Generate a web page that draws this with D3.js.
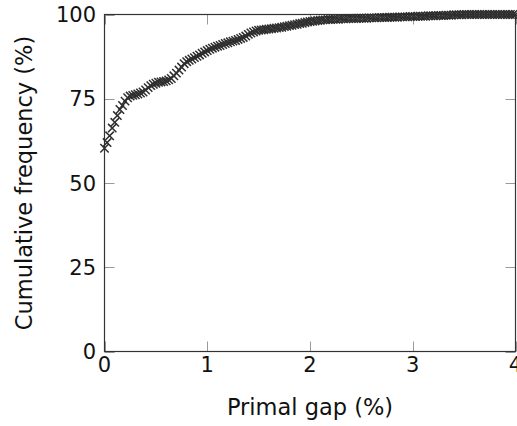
<!DOCTYPE html>
<html>
<head>
<meta charset="utf-8">
<script src="https://cdn.jsdelivr.net/npm/d3@7"></script>
<style>
  body { margin: 0; background: #fff; }
  svg text { font-family: 'DejaVu Sans', sans-serif; fill: #111; }
</style>
</head>
<body>
<div id="chart"></div>
<script>
// primal gap thresholds (%) sampled every 0.025
const gapStep = 0.025
// cumulative frequency (%) of instances with gap <= threshold
const cumFreq = [
  60.3, 62.0, 64.0, 66.3, 68.0, 70.0, 71.8, 73.0, 74.3, 75.3,
  75.8, 76.0, 76.2, 76.4, 76.7, 77.0, 77.6, 78.3, 78.9, 79.3,
  79.6, 79.9, 80.0, 80.1, 80.3, 80.6, 81.0, 81.8, 82.6, 83.5,
  84.4, 85.4, 86.0, 86.4, 86.8, 87.2, 87.6, 88.0, 88.5, 88.9,
  89.3, 89.7, 90.0, 90.3, 90.6, 90.8, 91.1, 91.4, 91.6, 91.9,
  92.1, 92.3, 92.6, 92.9, 93.2, 93.6, 94.1, 94.5, 94.8, 95.1,
  95.3, 95.4, 95.5, 95.6, 95.7, 95.8, 95.9, 96.0, 96.1, 96.2,
  96.4, 96.5, 96.7, 96.8, 97.0, 97.1, 97.3, 97.4, 97.6, 97.8,
  97.9, 98.0, 98.1, 98.2, 98.3, 98.4, 98.4, 98.5, 98.5, 98.6,
  98.6, 98.6, 98.7, 98.7, 98.7, 98.8, 98.8, 98.8, 98.8, 98.9,
  98.9, 98.9, 98.9, 99.0, 99.0, 99.0, 99.0, 99.1, 99.1, 99.1,
  99.1, 99.2, 99.2, 99.2, 99.2, 99.3, 99.3, 99.3, 99.3, 99.4,
  99.4, 99.4, 99.5, 99.5, 99.5, 99.5, 99.6, 99.6, 99.6, 99.6,
  99.7, 99.7, 99.7, 99.8, 99.8, 99.8, 99.9, 99.9, 99.9, 99.9,
  100, 100, 100, 100, 100, 100, 100, 100, 100, 100,
  100, 100, 100, 100, 100, 100, 100, 100, 100, 100,
  100
]
const xTicks = [0, 1, 2, 3, 4]
const yTicks = [0, 25, 50, 75, 100]
const xTitle = 'Primal gap (%)'
const yTitle = 'Cumulative frequency (%)'

const width = 517,
      height = 426,
      plot = { left: 104.5, right: 515.5, top: 14.5, bottom: 351.5 },
      tickLen = 10,
      markR = 4.2

const svg = d3.select('#chart')
  .append('svg')
  .attr('width', width)
  .attr('height', height)

const x = d3.scaleLinear().domain([0, 4]).range([plot.left, plot.right])
const y = d3.scaleLinear().domain([0, 100]).range([plot.bottom, plot.top])

// inward ticks on all four sides
const tickG = svg.append('g')
  .attr('stroke', '#9a9a9a')
  .attr('stroke-width', 1)
xTicks.forEach(t => {
  const px = Math.round(x(t)) + 0.5
  tickG.append('line').attr('x1', px).attr('x2', px)
    .attr('y1', plot.bottom).attr('y2', plot.bottom - tickLen)
  tickG.append('line').attr('x1', px).attr('x2', px)
    .attr('y1', plot.top).attr('y2', plot.top + tickLen)
})
yTicks.forEach(t => {
  const py = Math.round(y(t)) + 0.5
  tickG.append('line').attr('x1', plot.left).attr('x2', plot.left + tickLen)
    .attr('y1', py).attr('y2', py)
  tickG.append('line').attr('x1', plot.right).attr('x2', plot.right - tickLen)
    .attr('y1', py).attr('y2', py)
})

// frame
svg.append('rect')
  .attr('x', plot.left)
  .attr('y', plot.top)
  .attr('width', plot.right - plot.left)
  .attr('height', plot.bottom - plot.top)
  .attr('fill', 'none')
  .attr('stroke', '#333')
  .attr('stroke-width', 1.2)

// tick labels
svg.append('g').selectAll('text')
  .data(xTicks)
  .join('text')
  .attr('x', d => x(d))
  .attr('y', 372)
  .attr('text-anchor', 'middle')
  .attr('font-size', 21)
  .text(d => d)

svg.append('g').selectAll('text')
  .data(yTicks)
  .join('text')
  .attr('x', 96)
  .attr('y', d => y(d))
  .attr('dy', '0.36em')
  .attr('text-anchor', 'end')
  .attr('font-size', 21)
  .text(d => d)

// axis titles
svg.append('text')
  .attr('x', (plot.left + plot.right) / 2)
  .attr('y', 415)
  .attr('text-anchor', 'middle')
  .attr('font-size', 22.5)
  .text(xTitle)

svg.append('text')
  .attr('transform', `translate(32, ${(plot.top + plot.bottom) / 2}) rotate(-90)`)
  .attr('text-anchor', 'middle')
  .attr('font-size', 22.5)
  .text(yTitle)

// marks
const points = cumFreq.map((v, i) => ({ gap: i * gapStep, freq: v }))
svg.append('g')
  .selectAll('path')
  .data(points)
  .join('path')
  .attr('transform', d => `translate(${x(d.gap)}, ${y(d.freq)})`)
  .attr('d', `M${-markR},${-markR}L${markR},${markR}M${-markR},${markR}L${markR},${-markR}`)
  .attr('stroke', '#2e2e2e')
  .attr('stroke-width', 1.5)
  .attr('fill', 'none')
</script>
</body>
</html>
